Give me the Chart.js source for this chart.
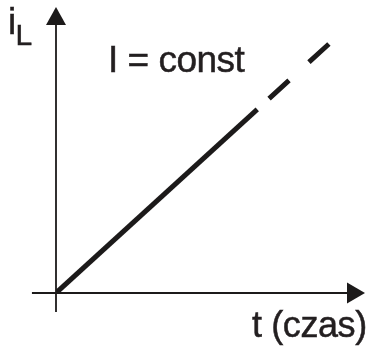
<!DOCTYPE html>
<html>
<head>
<meta charset="utf-8">
<script src="https://cdn.jsdelivr.net/npm/chart.js@4.4.0/dist/chart.umd.min.js"></script>
<style>
html,body{margin:0;padding:0;background:#fff;}
canvas{display:block;}
</style>
</head>
<body>
<canvas id="c" width="373" height="349"></canvas>
<script>
// Data (arbitrary units: t = time, iL = inductor current)
const solidT = [0, 7.36];
const solidI = [0, 6.74];
const dashedT = [7.36, 10];
const dashedI = [6.74, 9.16];
const axisT = [-0.88, 11.3];   // x-axis extent (left end, arrow tip)
const axisI = [-0.7, 10.5];    // y-axis extent (bottom end, arrow tip)
const labels = { y: 'i', ySub: 'L', x: 't (czas)', note: 'I = const' };

const ink = '#1c1a1a';
const toPts = (xs, ys) => xs.map((x, k) => ({ x: x, y: ys[k] }));

function boldText(ctx, txt, x, y) {
  ctx.fillText(txt, x, y);
  ctx.strokeText(txt, x, y);
}

const axesPlugin = {
  id: 'axesArrows',
  beforeDatasetsDraw(chart) {
    const { ctx, scales: { x, y } } = chart;
    const x0 = x.getPixelForValue(0), y0 = y.getPixelForValue(0);
    const xl = x.getPixelForValue(axisT[0]), xr = x.getPixelForValue(axisT[1]);
    const yb = y.getPixelForValue(axisI[0]), yt = y.getPixelForValue(axisI[1]);
    ctx.save();
    ctx.strokeStyle = ink; ctx.fillStyle = ink; ctx.lineWidth = 1.8;
    ctx.beginPath();
    ctx.moveTo(xl, y0); ctx.lineTo(xr - 14, y0);
    ctx.moveTo(x0, yb); ctx.lineTo(x0, yt + 14);
    ctx.stroke();
    // arrowheads
    ctx.beginPath();
    ctx.moveTo(xr, y0); ctx.lineTo(xr - 18, y0 - 10.5); ctx.lineTo(xr - 18, y0 + 10.5); ctx.closePath();
    ctx.fill();
    ctx.beginPath();
    ctx.moveTo(x0, yt); ctx.lineTo(x0 - 10, yt + 18); ctx.lineTo(x0 + 10, yt + 18); ctx.closePath();
    ctx.fill();
    // texts
    ctx.textBaseline = 'alphabetic'; ctx.textAlign = 'left';
    ctx.fillStyle = '#231f20'; ctx.strokeStyle = '#231f20'; ctx.lineWidth = 0.5;
    ctx.font = '37px "Liberation Sans", Arial, sans-serif';
    boldText(ctx, labels.y, 8, 34);
    ctx.font = '30px "Liberation Sans", Arial, sans-serif';
    boldText(ctx, labels.ySub, 15.5, 45);
    ctx.font = '37px "Liberation Sans", Arial, sans-serif';
    ctx.letterSpacing = '-0.5px';
    boldText(ctx, labels.note, 108, 72);
    ctx.font = '36px "Liberation Sans", Arial, sans-serif';
    ctx.letterSpacing = '-0.4px';
    boldText(ctx, labels.x, 252, 337);
    ctx.restore();
  }
};

new Chart(document.getElementById('c'), {
  type: 'scatter',
  data: {
    datasets: [
      { data: toPts(solidT, solidI), showLine: true, borderColor: ink, borderWidth: 5,
        pointRadius: 0, borderCapStyle: 'butt', fill: false },
      { data: toPts(dashedT, dashedI), showLine: true, borderColor: ink, borderWidth: 5,
        pointRadius: 0, borderCapStyle: 'butt', borderDash: [27, 27], borderDashOffset: 38, fill: false }
    ]
  },
  options: {
    responsive: false,
    animation: false,
    layout: { padding: { left: 56, right: 8, top: 7, bottom: 56 } },
    plugins: { legend: { display: false }, tooltip: { enabled: false } },
    scales: {
      x: { type: 'linear', min: 0, max: axisT[1], display: false },
      y: { type: 'linear', min: 0, max: axisI[1], display: false }
    }
  },
  plugins: [axesPlugin]
});
</script>
</body>
</html>
